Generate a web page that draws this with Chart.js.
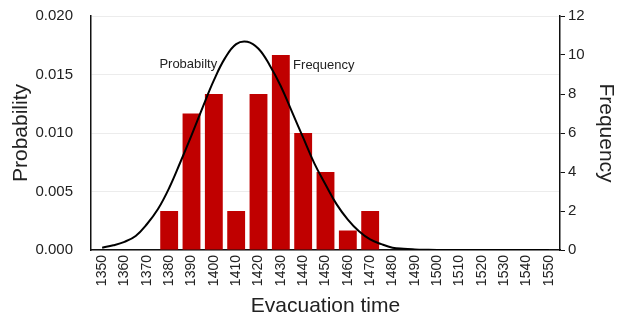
<!DOCTYPE html>
<html>
<head>
<meta charset="utf-8">
<script src="https://cdn.jsdelivr.net/npm/chart.js@4.4.0/dist/chart.umd.min.js"></script>
<style>
  html, body { margin: 0; padding: 0; background: #fff; }
  #wrap { width: 627px; height: 322px; }
</style>
</head>
<body>
<div id="wrap"><canvas id="grafico" width="627" height="322"></canvas></div>
<script>
// categorias del histograma
const categorias = ['1350', '1360', '1370', '1380', '1390', '1400', '1410', '1420', '1430', '1440',
    '1450', '1460', '1470', '1480', '1490', '1500', '1510', '1520', '1530', '1540', '1550'];
const frecuencias = [0, 0, 0, 2, 7, 8, 2, 8, 10, 6, 4, 1, 2, 0, 0, 0, 0, 0, 0, 0, 0];

// curva de probabilidad leida cada 5 unidades
const tiempoCurva = [1350, 1355, 1360, 1365, 1370, 1375, 1380, 1385, 1390, 1395, 1400, 1405, 1410,
    1415, 1420, 1425, 1430, 1435, 1440, 1445, 1450, 1455, 1460, 1465, 1470, 1475, 1480, 1485,
    1490, 1495, 1500, 1510, 1520, 1530, 1540, 1550];
const probabilidad = [0.0002, 0.0004, 0.0007, 0.0012, 0.0022, 0.0035, 0.0053, 0.0075, 0.0098,
    0.0122, 0.0145, 0.0164, 0.0176, 0.0178, 0.0172, 0.0158, 0.0140, 0.0118, 0.0096, 0.0074,
    0.0056, 0.0039, 0.0026, 0.0016, 0.0009, 0.0005, 0.0002, 0.0001, 0.00005, 0.00002, 0,
    0, 0, 0, 0, 0];

const fuente = 'Liberation Sans, Arial, sans-serif';

// etiquetas dentro del grafico
const etiquetas = [
    { texto: 'Probabilty', x: 1401.5, y: 0.0159, align: 'right' },
    { texto: 'Frequency', x: 1435.5, y: 0.0158, align: 'left' }
];

const pluginEtiquetas = {
    id: 'etiquetas',
    afterDatasetsDraw(chart) {
        const ctx = chart.ctx;
        const sx = chart.scales.x2;
        const sy = chart.scales.y;
        ctx.save();
        ctx.font = '13px ' + fuente;
        ctx.fillStyle = '#222';
        ctx.textBaseline = 'middle';
        etiquetas.forEach(function (e) {
            ctx.textAlign = e.align;
            ctx.fillText(e.texto, sx.getPixelForValue(e.x), sy.getPixelForValue(e.y));
        });
        ctx.restore();
    }
};

const ctx = document.getElementById('grafico').getContext('2d');
const grafico = new Chart(ctx, {
    type: 'bar',
    data: {
        labels: categorias,
        datasets: [
            {
                type: 'line',
                label: 'Probabilty',
                data: tiempoCurva.map(function (t, i) { return { x: t, y: probabilidad[i] }; }),
                xAxisID: 'x2',
                yAxisID: 'y',
                borderColor: '#000',
                borderWidth: 2,
                pointRadius: 0,
                tension: 0.4,
                fill: false,
                order: 0
            },
            {
                label: 'Frequency',
                data: frecuencias,
                xAxisID: 'x',
                yAxisID: 'y1',
                backgroundColor: '#C00000',
                barPercentage: 0.8,
                categoryPercentage: 1.0,
                grouped: false,
                order: 1
            }
        ]
    },
    options: {
        responsive: false,
        animation: false,
        layout: { padding: { top: 16, left: 9, right: 9, bottom: 3 } },
        plugins: {
            legend: { display: false },
            tooltip: { enabled: false }
        },
        scales: {
            x: {
                type: 'category',
                offset: true,
                grid: { drawOnChartArea: false, drawTicks: false },
                border: { display: true, color: '#111', width: 1.5 },
                ticks: {
                    color: '#222',
                    font: { family: fuente, size: 14 },
                    maxRotation: 90,
                    minRotation: 90,
                    autoSkip: false,
                    padding: 5
                },
                title: {
                    display: true,
                    text: 'Evacuation time',
                    color: '#222',
                    font: { family: fuente, size: 21 },
                    padding: 0
                },
                afterFit: function (s) { s.height = 69; }
            },
            x2: {
                type: 'linear',
                display: false,
                offset: false,
                min: 1345,
                max: 1555
            },
            y: {
                position: 'left',
                min: 0,
                max: 0.02,
                grid: { color: '#ececec', drawTicks: false },
                border: { display: true, color: '#111', width: 1.5 },
                ticks: {
                    stepSize: 0.005,
                    color: '#222',
                    font: { family: fuente, size: 15 },
                    padding: 18,
                    callback: function (v) { return v.toFixed(3); }
                },
                title: {
                    display: true,
                    text: 'Probability',
                    color: '#222',
                    font: { family: fuente, size: 21 },
                    padding: 0
                },
                afterFit: function (s) { s.width = 82; s.paddingTop = 0; }
            },
            y1: {
                position: 'right',
                min: 0,
                max: 12,
                grid: { drawOnChartArea: false, drawTicks: true, tickLength: 5, color: '#111' },
                border: { display: true, color: '#111', width: 1.5 },
                ticks: {
                    stepSize: 2,
                    color: '#222',
                    font: { family: fuente, size: 15 },
                    padding: 3
                },
                title: {
                    display: true,
                    text: 'Frequency',
                    color: '#222',
                    font: { family: fuente, size: 21 },
                    padding: 0
                },
                afterFit: function (s) { s.width = 58; s.paddingTop = 0; }
            }
        }
    },
    plugins: [pluginEtiquetas]
});
</script>
</body>
</html>
